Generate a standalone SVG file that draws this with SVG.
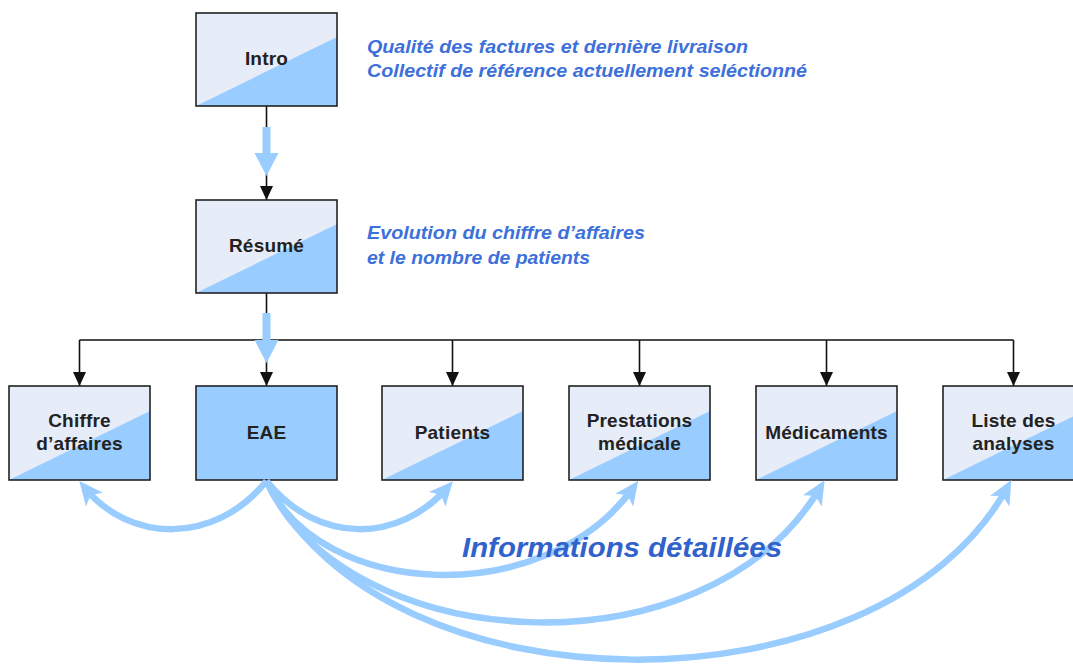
<svg xmlns="http://www.w3.org/2000/svg" width="1073" height="665" viewBox="0 0 1073 665">
<style>
.bg{fill:#e6ecf8}
.dg{fill:#99ccff}
.bd{fill:none;stroke:#222;stroke-width:1.6}
.lbl{font-family:"Liberation Sans",Arial,sans-serif;font-weight:bold;font-size:19px;fill:#222;text-anchor:middle;letter-spacing:0.2px}
.note{font-family:"Liberation Sans",Arial,sans-serif;font-weight:bold;font-style:italic;font-size:19px;fill:#3d70db}
.big{font-family:"Liberation Sans",Arial,sans-serif;font-weight:bold;font-style:italic;font-size:28px;fill:#3162cc}
.blk{fill:none;stroke:#111;stroke-width:1.6}
.cv{fill:none;stroke:#99ccff;stroke-width:6.5}
.barrow{fill:#99ccff}
</style>
<defs>
<marker id="ah" markerUnits="userSpaceOnUse" markerWidth="14" markerHeight="13" viewBox="0 0 14 13" refX="14" refY="6.5" orient="auto">
<path d="M0,0 L14,6.5 L0,13 z" fill="#111"/>
</marker>
<marker id="bh" markerUnits="userSpaceOnUse" markerWidth="26" markerHeight="24" viewBox="0 0 26 24" refX="15" refY="12" orient="auto">
<path d="M0,1 L24,12 L0,23 L6,12 z" fill="#99ccff"/>
</marker>
</defs>

<g id="connectors">
<path class="blk" d="M266.5,106 V200" marker-end="url(#ah)"/>
<path class="blk" d="M266.5,293 V386" marker-end="url(#ah)"/>
<path class="blk" d="M79.5,340 H1013.5"/>
<path class="blk" d="M79.5,340 V386" marker-end="url(#ah)"/>
<path class="blk" d="M452.5,340 V386" marker-end="url(#ah)"/>
<path class="blk" d="M639.5,340 V386" marker-end="url(#ah)"/>
<path class="blk" d="M826.5,340 V386" marker-end="url(#ah)"/>
<path class="blk" d="M1013.5,340 V386" marker-end="url(#ah)"/>
<polygon class="barrow" points="262.5,127 270.5,127 270.5,153 278.5,153 266.5,176 254.5,153 262.5,153"/>
<polygon class="barrow" points="262.5,313 270.5,313 270.5,340 278.5,340 266.5,363 254.5,340 262.5,340"/>
</g>

<g id="node-intro">
<rect class="bg" x="196" y="13" width="141" height="93"/>
<polygon class="dg" points="196,106 337,37 337,106"/>
<rect class="bd" x="196" y="13" width="141" height="93"/>
<text class="lbl" x="266.5" y="65">Intro</text>
</g>
<g id="note-intro">
<text class="note" x="367" y="53" textLength="381" lengthAdjust="spacingAndGlyphs">Qualité des factures et dernière livraison</text>
<text class="note" x="367" y="77" textLength="440" lengthAdjust="spacingAndGlyphs">Collectif de référence actuellement seléctionné</text>
</g>

<g id="node-resume">
<rect class="bg" x="196" y="200" width="141" height="93"/>
<polygon class="dg" points="196,293 337,224 337,293"/>
<rect class="bd" x="196" y="200" width="141" height="93"/>
<text class="lbl" x="266.5" y="252">Résumé</text>
</g>
<g id="note-resume">
<text class="note" x="367" y="239" textLength="278" lengthAdjust="spacingAndGlyphs">Evolution du chiffre d’affaires</text>
<text class="note" x="367" y="264" textLength="223" lengthAdjust="spacingAndGlyphs">et le nombre de patients</text>
</g>

<g id="node-chiffre">
<rect class="bg" x="9" y="386" width="141" height="94"/>
<polygon class="dg" points="9,480 150,411 150,480"/>
<rect class="bd" x="9" y="386" width="141" height="94"/>
<text class="lbl" x="79.5" y="427">Chiffre</text>
<text class="lbl" x="79.5" y="450">d’affaires</text>
</g>

<g id="node-eae">
<rect class="dg" x="196" y="386" width="141" height="94"/>
<rect class="bd" x="196" y="386" width="141" height="94"/>
<text class="lbl" x="266.5" y="439">EAE</text>
</g>

<g id="node-patients">
<rect class="bg" x="382" y="386" width="141" height="94"/>
<polygon class="dg" points="382,480 523,411 523,480"/>
<rect class="bd" x="382" y="386" width="141" height="94"/>
<text class="lbl" x="452.5" y="439">Patients</text>
</g>

<g id="node-prestations">
<rect class="bg" x="569" y="386" width="141" height="94"/>
<polygon class="dg" points="569,480 710,411 710,480"/>
<rect class="bd" x="569" y="386" width="141" height="94"/>
<text class="lbl" x="639.5" y="427">Prestations</text>
<text class="lbl" x="639.5" y="450">médicale</text>
</g>

<g id="node-medicaments">
<rect class="bg" x="756" y="386" width="141" height="94"/>
<polygon class="dg" points="756,480 897,411 897,480"/>
<rect class="bd" x="756" y="386" width="141" height="94"/>
<text class="lbl" x="826.5" y="439">Médicaments</text>
</g>

<g id="node-liste">
<rect class="bg" x="943" y="386" width="141" height="94"/>
<polygon class="dg" points="943,480 1084,411 1084,480"/>
<rect class="bd" x="943" y="386" width="141" height="94"/>
<text class="lbl" x="1013.5" y="427">Liste des</text>
<text class="lbl" x="1013.5" y="450">analyses</text>
</g>

<g id="detail-arrows">
<path class="cv" d="M266.5,481 C214,546 129,542 85,488" marker-end="url(#bh)"/>
<path class="cv" d="M266.5,481 C319,546 399.5,542 447,488" marker-end="url(#bh)"/>
<path class="cv" d="M266.5,481 C320,600 545,610 633,488" marker-end="url(#bh)"/>
<path class="cv" d="M266.5,481 C345,656 705,680 820,488" marker-end="url(#bh)"/>
<path class="cv" d="M266.5,481 C385,718 880,718 1007,488" marker-end="url(#bh)"/>
</g>

<g id="label-details">
<text class="big" x="462" y="557" textLength="320" lengthAdjust="spacingAndGlyphs">Informations détaillées</text>
</g>
</svg>
